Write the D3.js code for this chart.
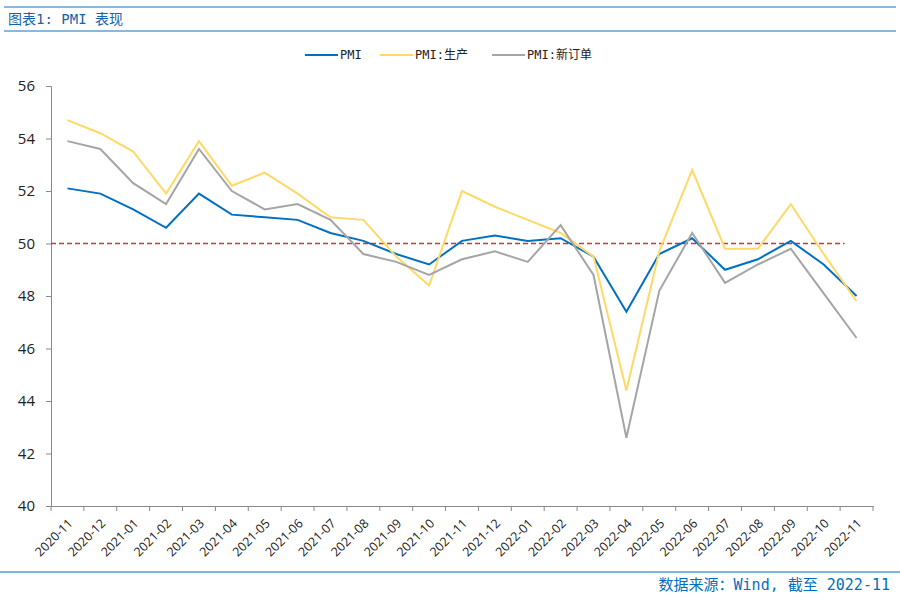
<!DOCTYPE html>
<html>
<head>
<meta charset="utf-8">
<script src="https://cdn.jsdelivr.net/npm/d3@7"></script>
<style>
  body { margin: 0; background: #fff; }
  svg { display: block; }
</style>
</head>
<body>
<svg id="chart" width="900" height="600"></svg>
<script>
const months = ['2020-11','2020-12','2021-01','2021-02','2021-03','2021-04','2021-05','2021-06',
  '2021-07','2021-08','2021-09','2021-10','2021-11','2021-12','2022-01','2022-02','2022-03',
  '2022-04','2022-05','2022-06','2022-07','2022-08','2022-09','2022-10','2022-11'];
const pmi = [52.1,51.9,51.3,50.6,51.9,51.1,51.0,50.9,50.4,50.1,49.6,49.2,50.1,50.3,50.1,50.2,49.5,
  47.4,49.6,50.2,49.0,49.4,50.1,49.2,48.0];
const pmi_prod = [54.7,54.2,53.5,51.9,53.9,52.2,52.7,51.9,51.0,50.9,49.5,48.4,52.0,51.4,50.9,50.4,49.5,
  44.4,49.7,52.8,49.8,49.8,51.5,49.6,47.8];
const pmi_order = [53.9,53.6,52.3,51.5,53.6,52.0,51.3,51.5,50.9,49.6,49.3,48.8,49.4,49.7,49.3,50.7,48.8,
  42.6,48.2,50.4,48.5,49.2,49.8,48.1,46.4];
const series_names = ['PMI', 'PMI:生产', 'PMI:新订单'];
const y_ticks = [40,42,44,46,48,50,52,54,56];
const threshold = 50;

const colors = ['#0070C0', '#FFD966', '#A5A5A5'];
const series = [pmi, pmi_prod, pmi_order];

const svg = d3.select('#chart');
const margin = {top: 86, right: 27, bottom: 94, left: 51};
const width = 900 - margin.left - margin.right;
const height = 600 - margin.top - margin.bottom;

const mono = '"DejaVu Sans Mono", "Noto Sans CJK SC", monospace';

// header and footer rules
const blue = '#0070C0';
svg.append('line').attr('x1', 4).attr('x2', 896).attr('y1', 7).attr('y2', 7)
  .attr('stroke', '#1F6FB5').attr('stroke-width', 1);
svg.append('line').attr('x1', 4).attr('x2', 896).attr('y1', 31).attr('y2', 31)
  .attr('stroke', '#1F6FB5').attr('stroke-width', 1);
svg.append('text').attr('x', 8).attr('y', 24)
  .attr('fill', '#1763A6').attr('font-family', mono)
  .attr('font-size', 14).text('图表1: PMI 表现');

svg.append('line').attr('x1', 0).attr('x2', 900).attr('y1', 572).attr('y2', 572)
  .attr('stroke', blue).attr('stroke-width', 1);
svg.append('text').attr('x', 890).attr('y', 590).attr('text-anchor', 'end')
  .attr('fill', blue).attr('font-family', mono)
  .attr('font-size', 15).text('数据来源：Wind, 截至 2022-11');

const g = svg.append('g').attr('transform', `translate(${margin.left},${margin.top})`);

const x = d3.scaleBand().domain(months).range([0, width]);
const y = d3.scaleLinear().domain([40, 56]).range([height, 0]);
const cx = m => x(m) + x.bandwidth() / 2;

// y axis
const yAxis = g.append('g').call(d3.axisLeft(y).tickValues(y_ticks).tickSize(5).tickPadding(11));
yAxis.select('.domain').attr('stroke', '#898989');
yAxis.selectAll('.tick line').attr('stroke', '#898989');
yAxis.selectAll('.tick text').attr('font-size', 15).attr('fill', '#222')
  .attr('font-family', '"Open Sans", "Noto Sans", sans-serif');

// x axis
const xAxis = g.append('g').attr('transform', `translate(0,${height})`)
  .call(d3.axisBottom(x).tickSize(0).tickFormat(''));
xAxis.select('.domain').attr('stroke', '#898989');
g.append('g').selectAll('line')
  .data(months.concat(['end']))
  .join('line')
  .attr('x1', (d, i) => i < months.length ? x(d) : width)
  .attr('x2', (d, i) => i < months.length ? x(d) : width)
  .attr('y1', height).attr('y2', height + 5)
  .attr('stroke', '#898989');
g.append('g').selectAll('text')
  .data(months)
  .join('text')
  .attr('transform', d => `translate(${cx(d) + 3},${height + 15}) rotate(-45)`)
  .attr('text-anchor', 'end')
  .attr('dy', '0.35em')
  .attr('font-size', 12.5)
  .attr('fill', '#222')
  .attr('font-family', '"Open Sans", "Noto Sans", sans-serif')
  .text(d => d);

// 50 reference line
g.append('line')
  .attr('x1', 0).attr('x2', cx(months[months.length - 1]) - 12)
  .attr('y1', y(threshold)).attr('y2', y(threshold))
  .attr('stroke', '#D9302C').attr('stroke-width', 1.3).attr('stroke-dasharray', '5,3');

// series lines
const line = d3.line().x((d, i) => cx(months[i])).y(d => y(d));
series.forEach(function(vals, ix) {
  g.append('path')
    .datum(vals)
    .attr('fill', 'none')
    .attr('stroke', colors[ix])
    .attr('stroke-width', 2)
    .attr('stroke-linejoin', 'miter')
    .attr('d', line);
});

// legend
const legend_x = [305, 380, 492];
const lg = svg.append('g');
series_names.forEach(function(name, ix) {
  lg.append('line')
    .attr('x1', legend_x[ix]).attr('x2', legend_x[ix] + 33)
    .attr('y1', 55).attr('y2', 55)
    .attr('stroke', colors[ix]).attr('stroke-width', 2);
  lg.append('text')
    .attr('x', legend_x[ix] + 35).attr('y', 55).attr('dy', '0.35em')
    .attr('font-size', 12).attr('fill', '#222')
    .attr('font-family', mono)
    .text(name);
});
</script>
</body>
</html>
